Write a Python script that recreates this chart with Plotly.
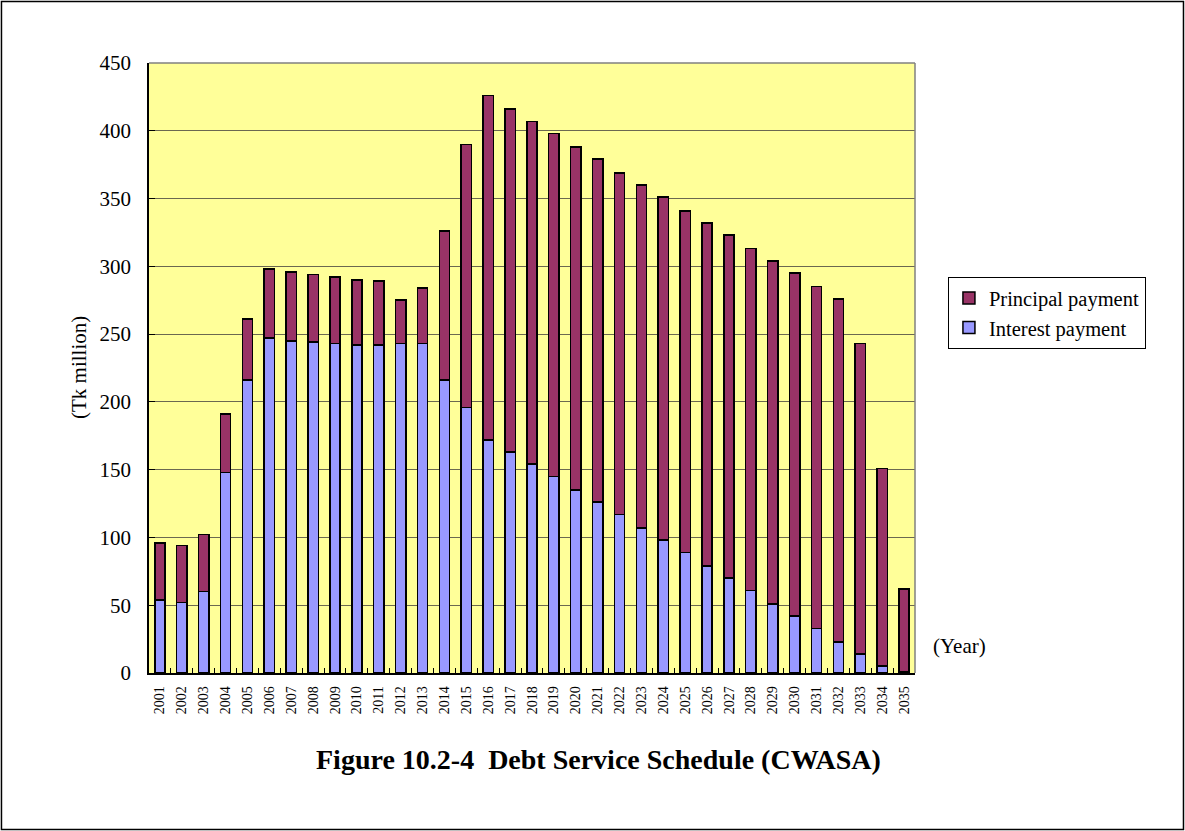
import plotly.graph_objects as go

years = [str(y) for y in range(2001, 2036)]
interest = [54, 52, 60, 148, 216, 247, 245, 244, 243, 242, 242, 243, 243, 216, 196,
            172, 163, 154, 145, 135, 126, 117, 107, 98, 89, 79, 70, 61, 51, 42,
            33, 23, 14, 5, 1]
total = [96, 94, 102, 191, 261, 298, 296, 294, 292, 290, 289, 275, 284, 326, 390,
         426, 416, 407, 398, 388, 379, 369, 360, 351, 341, 332, 323, 313, 304, 295,
         285, 276, 243, 151, 62]
principal = [t - i for t, i in zip(total, interest)]

FONT = "Liberation Serif, Times New Roman, serif"

fig = go.Figure()
fig.add_trace(go.Bar(
    x=years, y=interest, name="Interest payment",
    marker=dict(color="#9999FF", line=dict(color="black", width=1.5)),
    width=0.47,
))
fig.add_trace(go.Bar(
    x=years, y=principal, name="Principal payment",
    marker=dict(color="#993366", line=dict(color="black", width=1.5)),
    width=0.47,
))

fig.update_layout(
    barmode="stack",
    width=1185, height=831,
    margin=dict(l=149, r=270, t=63, b=158),
    paper_bgcolor="white",
    plot_bgcolor="#FFFF99",
    font=dict(family=FONT, color="black", size=21),
    showlegend=True,
    legend=dict(
        x=1.043, y=0.649, xanchor="left", yanchor="top",
        traceorder="reversed",
        bgcolor="white", bordercolor="black", borderwidth=1,
        font=dict(family=FONT, size=20.5),
        itemwidth=30,
    ),
    xaxis=dict(
        type="category",
        tickangle=-90,
        tickfont=dict(family=FONT, size=14),
        ticks="inside", ticklen=5, tickcolor="black",
        tickson="boundaries",
        ticklabelstandoff=6,
        showline=True, linecolor="black", linewidth=1.5,
        mirror=False, showgrid=False,
    ),
    yaxis=dict(
        range=[0, 450],
        dtick=50,
        tickfont=dict(family=FONT, size=21),
        ticks="inside", ticklen=6, tickcolor="black",
        ticklabelstandoff=12,
        showline=True, linecolor="black", linewidth=1.5,
        showgrid=True, gridcolor="#6b6850", gridwidth=1,
        zeroline=False,
    ),
    shapes=[
        # right and top border of the plotting area
        dict(type="line", xref="paper", yref="paper", x0=0, x1=1, y0=1, y1=1,
             line=dict(color="#808080", width=1.5)),
        dict(type="line", xref="paper", yref="paper", x0=1, x1=1, y0=0, y1=1,
             line=dict(color="#808080", width=1.5)),
        # outer frame of the figure
        dict(type="rect", xref="paper", yref="paper",
             x0=-0.1926, x1=1.3505, y0=-0.2566, y1=1.1008,
             line=dict(color="black", width=1.5)),
    ],
    annotations=[
        dict(text="(Tk million)", xref="paper", yref="paper",
             x=(79 - 149) / 766, y=(673 - 368) / 610,
             xanchor="center", yanchor="middle",
             textangle=-90, showarrow=False, font=dict(family=FONT, size=21)),
        dict(text="(Year)", xref="paper", yref="paper", x=(960 - 149) / 766,
             y=(673 - 646) / 610, xanchor="center", yanchor="middle",
             showarrow=False, font=dict(family=FONT, size=21)),
        dict(text="<b>Figure 10.2-4  Debt Service Schedule (CWASA)</b>",
             xref="paper", yref="paper", x=(598 - 149) / 766, y=(673 - 759) / 610,
             xanchor="center", yanchor="middle",
             showarrow=False, font=dict(family=FONT, size=28)),
    ],
)

fig.write_html("out.html")
